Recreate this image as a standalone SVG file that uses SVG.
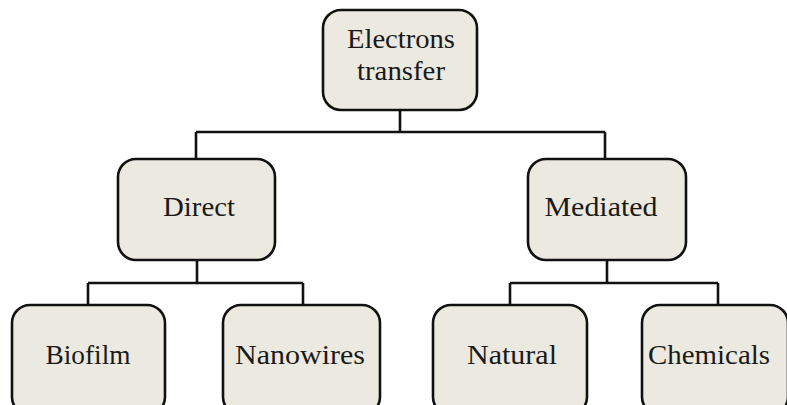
<svg xmlns="http://www.w3.org/2000/svg" width="787" height="405" viewBox="0 0 787 405">
<style>
.box{fill:#ebe9e0;stroke:#111;stroke-width:2.6}
.lbl{font-family:"Liberation Serif","Times New Roman",serif;font-size:27px;fill:#1a1a1a;text-anchor:middle}
.con{stroke:#111;stroke-width:2.6;fill:none}
</style>
<rect width="787" height="405" fill="#fff"/>
<g id="connectors">
<path class="con" d="M400 110V132M196 132H605M196 132V159M605 132V159"/>
<path class="con" d="M197 260V283M88 283H303M88 283V305M303 283V305"/>
<path class="con" d="M607 260V283M510 283H718M510 283V305M718 283V305"/>
</g>
<g id="electrons">
<rect class="box" x="323" y="10" width="154" height="100" rx="18"/>
<text class="lbl" x="401" y="48" textLength="108" lengthAdjust="spacingAndGlyphs">Electrons</text>
<text class="lbl" x="401" y="80" textLength="88" lengthAdjust="spacingAndGlyphs">transfer</text>
</g>
<g id="direct">
<rect class="box" x="118" y="159" width="157" height="101" rx="18"/>
<text class="lbl" x="199" y="216" textLength="72" lengthAdjust="spacingAndGlyphs">Direct</text>
</g>
<g id="mediated">
<rect class="box" x="528" y="159" width="158" height="101" rx="18"/>
<text class="lbl" x="601" y="216" textLength="113" lengthAdjust="spacingAndGlyphs">Mediated</text>
</g>
<g id="biofilm">
<rect class="box" x="12" y="305" width="153" height="110" rx="18"/>
<text class="lbl" x="88" y="364" textLength="85" lengthAdjust="spacingAndGlyphs">Biofilm</text>
</g>
<g id="nanowires">
<rect class="box" x="223" y="305" width="157" height="110" rx="18"/>
<text class="lbl" x="300" y="364" textLength="130" lengthAdjust="spacingAndGlyphs">Nanowires</text>
</g>
<g id="natural">
<rect class="box" x="433" y="305" width="154" height="110" rx="18"/>
<text class="lbl" x="512" y="364" textLength="90" lengthAdjust="spacingAndGlyphs">Natural</text>
</g>
<g id="chemicals">
<rect class="box" x="642" y="305" width="146" height="110" rx="18"/>
<text class="lbl" x="709" y="364" textLength="122" lengthAdjust="spacingAndGlyphs">Chemicals</text>
</g>
</svg>
